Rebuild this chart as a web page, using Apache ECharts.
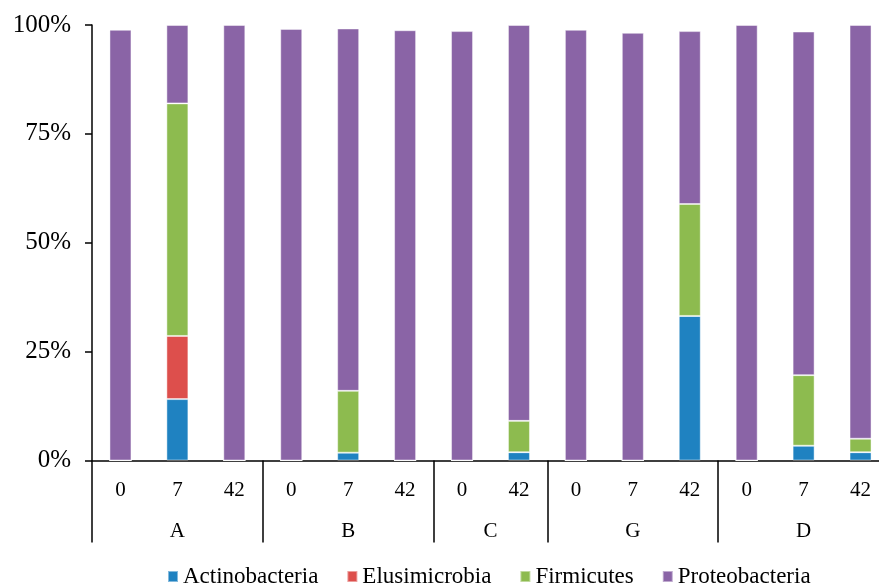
<!DOCTYPE html>
<html>
<head>
<meta charset="utf-8">
<script src="https://cdn.jsdelivr.net/npm/echarts@6/dist/echarts.min.js"></script>
<style>
    html, body { margin: 0; padding: 0; background: #fff; overflow: hidden; }
    /* the original figure is cropped on the right, so the canvas runs past the window */
    #chart { width: 889px; height: 585px; }
</style>
</head>
<body>
<div id="chart"></div>
<script>
// sampling days (inner labels) and treatment groups (outer labels)
var days = ['0', '7', '42', '0', '7', '42', '0', '42', '0', '7', '42', '0', '7', '42'];
var groups = ['A', 'B', 'C', 'G', 'D'];
var groupSizes = [3, 3, 2, 3, 3];

// relative abundance, %
var actinobacteria = [0, 14.1, 0, 0, 1.8, 0, 0, 1.9, 0, 0, 33.2, 0, 3.4, 1.9];
var elusimicrobia = [0, 14.5, 0, 0, 0, 0, 0, 0, 0, 0, 0, 0, 0, 0];
var firmicutes = [0, 53.4, 0, 0, 14.2, 0, 0, 7.2, 0, 0, 25.7, 0, 16.2, 3.1];
var proteobacteria = [98.9, 18.0, 100, 99.1, 83.2, 98.8, 98.6, 90.9, 98.9, 98.2, 39.7, 100, 78.9, 95.0];

var yTicks = [0, 25, 50, 75, 100];

// group boundaries and centres on the 0..n scale of the outer axis
var bounds = [0];
var centres = [];
groupSizes.forEach(function (n) {
    var start = bounds[bounds.length - 1];
    centres.push(start + n / 2);
    bounds.push(start + n);
});

var font = 'Liberation Serif';
var chart = echarts.init(document.getElementById('chart'));

function barSerie(name, color, data) {
    return {
        name: name,
        type: 'bar',
        stack: 'phyla',
        barWidth: 22,
        xAxisIndex: 0,
        itemStyle: { color: color, borderColor: 'rgba(255,255,255,0.45)', borderWidth: 1 },
        data: data
    };
}

chart.setOption({
    animation: false,
    legend: {
        left: 162,
        top: 560,
        icon: 'rect',
        itemWidth: 10,
        itemHeight: 11,
        itemGap: 28,
        textStyle: { fontFamily: font, fontSize: 23, color: '#000' }
    },
    grid: { left: 92, top: 25, right: 0, bottom: 124.5, containLabel: false },
    yAxis: {
        type: 'value',
        min: yTicks[0],
        max: yTicks[yTicks.length - 1],
        interval: 25,
        axisLine: { show: true, lineStyle: { color: '#000', width: 1.5 } },
        axisTick: { show: true, length: 7, lineStyle: { color: '#000', width: 1.5 } },
        splitLine: { show: false },
        axisLabel: {
            formatter: '{value}%',
            margin: 21,
            fontFamily: font,
            fontSize: 25,
            color: '#000'
        }
    },
    xAxis: [
        {
            type: 'category',
            data: days,
            position: 'bottom',
            axisLine: { show: true, lineStyle: { color: '#000', width: 1.5 } },
            axisTick: { show: false },
            axisLabel: { margin: 19, fontFamily: font, fontSize: 21, color: '#000' }
        },
        {
            type: 'value',
            min: 0,
            max: days.length,
            position: 'bottom',
            axisLine: { show: false },
            splitLine: { show: false },
            axisTick: {
                show: true,
                customValues: bounds,
                length: 82,
                lineStyle: { color: '#000', width: 1.5 }
            },
            axisLabel: {
                customValues: centres,
                margin: 60,
                fontFamily: font,
                fontSize: 21,
                color: '#000',
                formatter: function (v) {
                    return groups[centres.indexOf(v)];
                }
            }
        }
    ],
    series: [
        barSerie('Actinobacteria', '#1F82C1', actinobacteria),
        barSerie('Elusimicrobia', '#DD4F4C', elusimicrobia),
        barSerie('Firmicutes', '#8DBB4F', firmicutes),
        barSerie('Proteobacteria', '#8A64A6', proteobacteria)
    ]
});
</script>
</body>
</html>
